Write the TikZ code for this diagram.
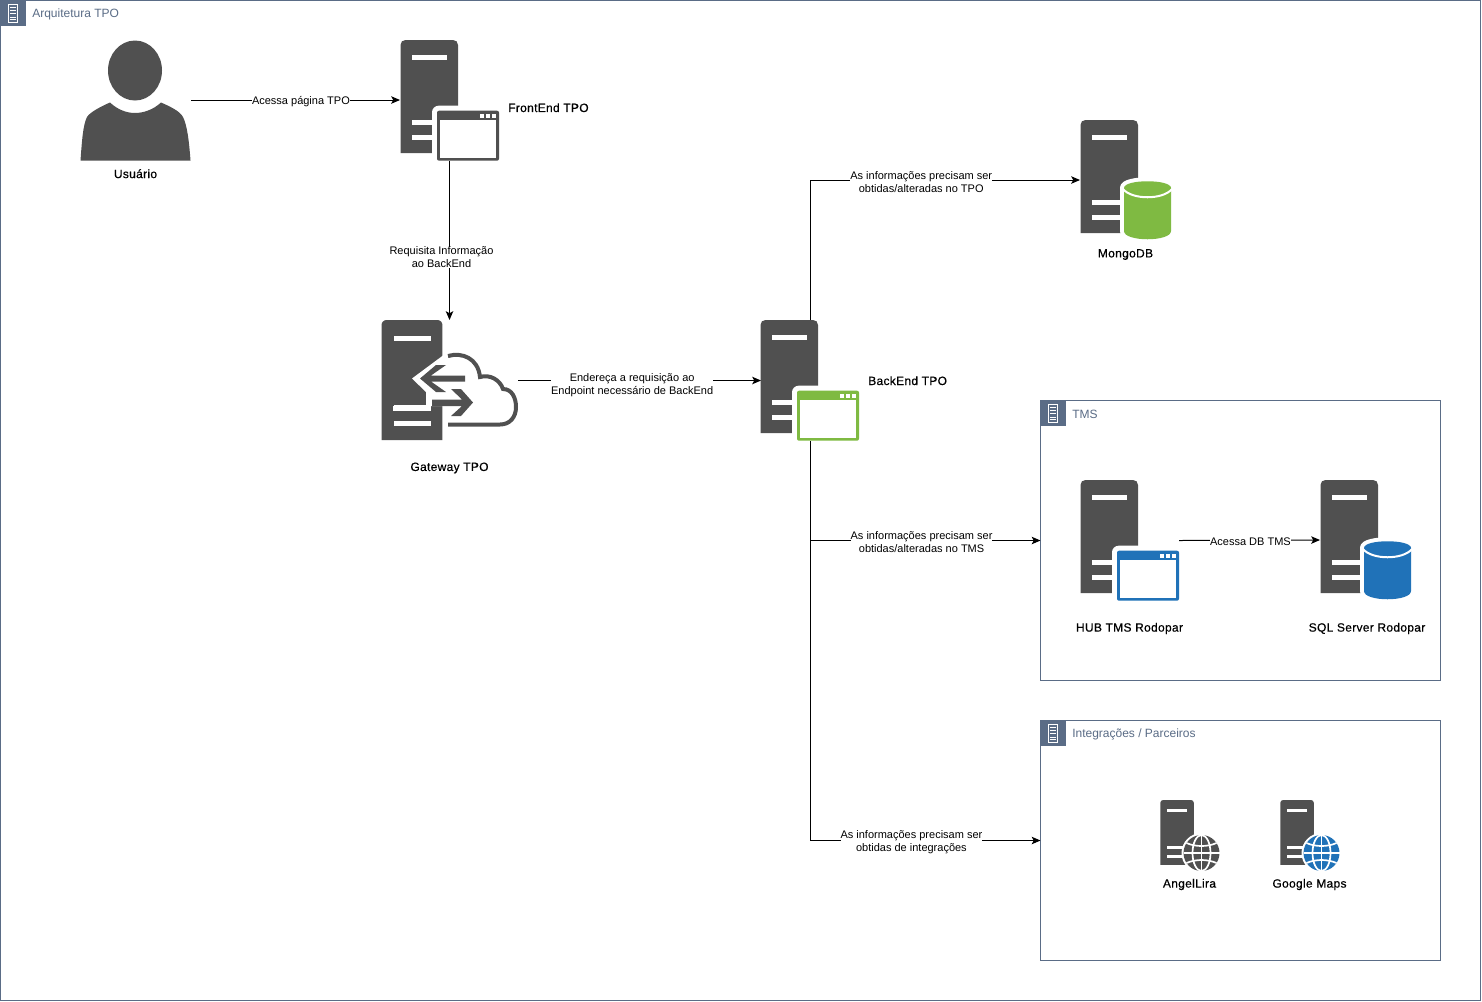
\documentclass[tikz,border=0pt]{standalone}
\usepackage{fontspec}
\setmainfont{Liberation Sans}
\newfontfamily\iconfont[FakeBold=0.5,LetterSpace=2.5]{Liberation Sans}
\usetikzlibrary{arrows.meta,fit}
\definecolor{ink}{HTML}{505050}
\definecolor{grp}{HTML}{5A6C86}
\definecolor{lime}{HTML}{7FBA42}
\definecolor{azure}{HTML}{2072B8}
\tikzset{
  px/.style={line width=#1*0.75pt},
  conn/.style={draw=black,px=1,-{Stealth[length=6.6pt,width=5.6pt,inset=1.5pt]}},
  edgelabel/.style={fill=white,inner sep=0pt,align=center,text=black,font=\fontsize{8.25}{9.75}\selectfont},
  iconlabel/.style={inner sep=0pt,text=black,font=\iconfont\fontsize{9}{11}\selectfont},
  grouptitle/.style={anchor=west,inner sep=0pt,text=grp,font=\fontsize{9}{11}\selectfont},
  box/.style={inner sep=0pt,outer sep=0pt},
}
% unit server: 57.5 x 113
\newcommand{\srvunit}{%
  \fill[ink] (0,113) -- (0,5) .. controls (0,2) and (2,0) .. (5,0) -- (52.5,0) .. controls (55.5,0) and (57.5,2) .. (57.5,5) -- (57.5,113) -- cycle;
  \fill[white] (11.5,15) rectangle (46.5,20);
  \fill[white] (11.5,80) rectangle (46.5,85);
  \fill[white] (11.5,95) rectangle (46.5,100);
}
\newcommand{\winicon}[3]{% x y colour
  \begin{scope}[shift={(#1,#2)}]
    \fill[white,rounded corners=5pt] (-5,-5) rectangle (62,50);
    \fill[white] (47,-5) rectangle (62,50);
    \fill[white] (-5,35) rectangle (62,50);
    \fill[#3,rounded corners=1.5pt] (0,0) rectangle (62,50);
    \fill[white] (2.8,9.5) rectangle (59.2,47.2);
    \foreach \d in {5,11,17} {\fill[white] (62-\d-1.8,3.2) rectangle (62-\d+1.8,6.8);}
  \end{scope}
}
\newcommand{\cylicon}[3]{% x y colour
  \begin{scope}[shift={(#1,#2)}]
    \path[draw=white,fill=white,px=8] (0,7) .. controls (0,-2) and (47,-2) .. (47,7) -- (47,50) .. controls (47,61) and (0,61) .. (0,50) -- cycle;
    \fill[#3] (0,7) .. controls (0,-2) and (47,-2) .. (47,7) -- (47,50) .. controls (47,61) and (0,61) .. (0,50) -- cycle;
    \draw[white,px=2] (-1,8) .. controls (8,19) and (39,19) .. (48,8);
  \end{scope}
}
\newcommand{\globeicon}[3]{% cx cy colour
  \begin{scope}[shift={(#1,#2)}]
    \fill[white] (0,0) circle [radius=20];
    \fill[#3] (0,0) circle [radius=18];
    \draw[white,px=1.7] (0,-18) -- (0,18) (-18,0) -- (18,0);
    \draw[white,px=1.7] (0,0) ellipse [x radius=9,y radius=18];
    \draw[white,px=1.7] (-15,-10) .. controls (-6,-6) and (6,-6) .. (15,-10);
    \draw[white,px=1.7] (-15,10) .. controls (-6,6) and (6,6) .. (15,10);
  \end{scope}
}
\newcommand{\groupbox}[5]{% name x1 y1 x2 y2
  \node[box,draw=grp,px=1,fit={(#2,#3)(#4,#5)}] (#1) {};
  \fill[grp] (#2,#3) rectangle ++(25,25);
  \begin{scope}[shift={(#2,#3)}]
    \draw[white,px=1] (7.5,4) rectangle (17,21.5);
    \draw[white,px=1] (9.5,7) -- (15,7) (9.5,10) -- (15,10) (9.5,13) -- (15,13) (9.5,17) -- (15,17) (9.5,19) -- (15,19);
  \end{scope}
}
\begin{document}
\begin{tikzpicture}[x=0.75pt,y=-0.75pt]
\useasboundingbox (0,0) rectangle (1482,1001);
\fill[white] (0,0) rectangle (1482,1001);

% groups
\groupbox{outer}{0.5}{0.5}{1480.5}{1000.5}
\node[grouptitle] (outertitle) at (32,14.5) {Arquitetura TPO};
\groupbox{tms}{1040.5}{400.5}{1440.5}{680.5}
\node[grouptitle] (tmstitle) at (1072,414.5) {TMS};
\groupbox{integ}{1040.5}{720.5}{1440.5}{960.5}
\node[grouptitle] (integtitle) at (1072,734.5) {Integrações / Parceiros};

% user
\node[box,fit={(80,40)(191,160)}] (user) {};
\fill[ink] (135,70.5) ellipse [x radius=27,y radius=30];
\fill[ink] (80.5,160.5) .. controls (82,140) and (83,125) .. (87,117) .. controls (90,112) and (102,106) .. (110,102.5) .. controls (118,110) and (127,113) .. (135,113) .. controls (143,113) and (153,110) .. (161,102.5) .. controls (169,106) and (180,111) .. (183,117) .. controls (187,125) and (189,140) .. (190.5,160.5) -- cycle;
\node[iconlabel] (userlabel) at (135.5,173.7) {Usuário};

% frontend
\node[box,fit={(400,40)(499,161)}] (fe) {};
\begin{scope}[shift={(400.5,40)}]\srvunit\end{scope}
\winicon{437}{110.7}{ink}
\node[iconlabel,anchor=west] (felabel) at (508,107.7) {FrontEnd TPO};

% gateway
\node[box,fit={(381,320)(518,441)}] (gw) {};
\begin{scope}[shift={(381.5,320)},xscale=1.06,yscale=1.062]\srvunit\end{scope}
\fill[white] (449,351) -- (412,378.5) -- (426,392) -- (426,406) -- (452,406) -- (452,430) -- (444,430) -- (444,412) -- (470,412) -- (480,351) -- cycle;
\fill[white] (393,405.5) rectangle (431,411);
\draw[ink,px=4] (448,356) .. controls (462,352) and (478,358) .. (480,377) .. controls (490,374) and (500,380) .. (503,389) .. controls (512,389) and (516,398) .. (516,407) .. controls (516,417) and (510,424.5) .. (500,424.5) -- (448,424.5);
\fill[ink] (420,378.5) -- (436,365) -- (446,365) -- (431,375.5) -- (465,375.5) -- (465,381.5) -- (431,381.5) -- (446,392) -- (436,392) -- cycle;
\fill[ink] (473,402.5) -- (461,389) -- (451,389) -- (462,399.5) -- (432,399.5) -- (432,406) -- (462,406) -- (451,416) -- (461,416) -- cycle;
\node[iconlabel] (gwlabel) at (449.5,468) {Gateway TPO};

% backend
\node[box,fit={(761,320)(859,441)}] (be) {};
\begin{scope}[shift={(760.5,320)}]\srvunit\end{scope}
\winicon{797}{390.7}{lime}
\node[iconlabel,anchor=west] (belabel) at (868,380.7) {BackEnd TPO};

% mongo
\node[box,fit={(1080,120)(1171,240)}] (mongo) {};
\begin{scope}[shift={(1080.5,120)}]\srvunit\end{scope}
\cylicon{1124}{181}{lime}
\node[iconlabel] (mongolabel) at (1125.5,254.5) {MongoDB};

% hub
\node[box,fit={(1080,480)(1179,601)}] (hub) {};
\begin{scope}[shift={(1080.5,480)}]\srvunit\end{scope}
\winicon{1117}{550.7}{azure}
\node[iconlabel] (hublabel) at (1129.5,628.5) {HUB TMS Rodopar};

% sql
\node[box,fit={(1320,480)(1411,600)}] (sql) {};
\begin{scope}[shift={(1320.5,480)}]\srvunit\end{scope}
\cylicon{1364}{541}{azure}
\node[iconlabel] (sqllabel) at (1367,628.5) {SQL Server Rodopar};

% angel
\node[box,fit={(1160,800)(1220,871)}] (angel) {};
\begin{scope}[shift={(1160.3,800)},xscale=0.583,yscale=0.575]\srvunit\end{scope}
\globeicon{1201.5}{853}{ink}
\node[iconlabel] (angellabel) at (1189.5,884.5) {AngelLira};

% google
\node[box,fit={(1280,800)(1340,871)}] (gmaps) {};
\begin{scope}[shift={(1280.3,800)},xscale=0.583,yscale=0.575]\srvunit\end{scope}
\globeicon{1321.5}{853}{azure}
\node[iconlabel] (gmapslabel) at (1309.5,884.5) {Google Maps};

% connectors
\draw[conn] (user.east) -- node[edgelabel,pos=.526,yshift=-1pt] (l1) {Acessa página TPO} (fe.west |- user.east);
\draw[conn] (fe.south) -- node[edgelabel,pos=.6,xshift=-6pt,yshift=-.8pt] (l2) {Requisita Informação\\ao BackEnd} (gw.north);
\draw[conn] (gw.east) -- node[edgelabel,pos=.467,yshift=-3.8pt,xshift=.5pt] (l3) {Endereça a requisição ao\\Endpoint necessário de BackEnd} (be.west);
\draw[conn] (be.north) |- node[edgelabel,pos=.706,yshift=-1.5pt] (l4) {As informações precisam ser\\obtidas/alteradas no TPO} (mongo.west);
\draw[conn] (be.south) |- node[edgelabel,pos=.742,yshift=-1.5pt] (l5) {As informações precisam ser\\obtidas/alteradas no TMS} (tms.west);
\draw[conn] (be.south) |- node[edgelabel,pos=.72,yshift=-1.4pt] (l6) {As informações precisam ser\\obtidas de integrações} (integ.west);
\draw[conn] (hub.east) -- node[edgelabel,pos=.5,yshift=-.8pt,xshift=.7pt] (l7) {Acessa DB TMS} (sql.west);
\end{tikzpicture}
\end{document}
